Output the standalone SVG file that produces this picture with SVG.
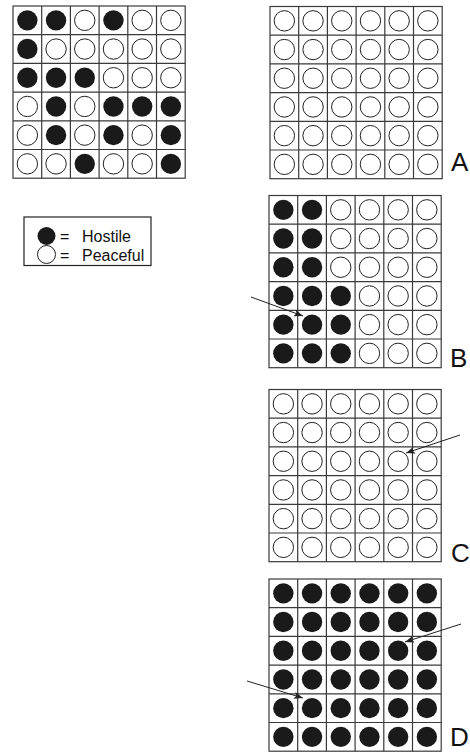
<svg xmlns="http://www.w3.org/2000/svg" xmlns:xlink="http://www.w3.org/1999/xlink" width="470" height="752" viewBox="0 0 470 752">
<style>
.grid{fill:#fff;stroke:#3a3a3a;stroke-width:1.2}
.h{fill:#1a1a1a}
.p{fill:#fff;stroke:#222;stroke-width:1}
.lbl{font-family:"Liberation Sans",Arial,sans-serif;font-size:26px;fill:#111}
.leg{font-family:"Liberation Sans",Arial,sans-serif;font-size:16px;fill:#111}
.arr{stroke:#222;stroke-width:1;fill:none}
</style>
<defs>
<g id="gridlines">
<rect class="grid" x="0" y="0" width="172.2" height="172.2"/>
<path class="grid" d="M28.7,0V172.2M57.4,0V172.2M86.1,0V172.2M114.8,0V172.2M143.5,0V172.2M0,28.7H172.2M0,57.4H172.2M0,86.1H172.2M0,114.8H172.2M0,143.5H172.2"/>
</g>
<circle id="H" class="h" r="10.2"/>
<circle id="P" class="p" r="10.2"/>
<marker id="ah" markerUnits="userSpaceOnUse" markerWidth="10" markerHeight="8" refX="9" refY="3.5" orient="auto">
<path d="M0,0 L9,3.5 L0,7 L2,3.5 z" fill="#222"/>
</marker>
</defs>

<g id="sample" transform="translate(13,6)">
<use xlink:href="#gridlines"/>
<use xlink:href="#H" x="14.35" y="14.35"/><use xlink:href="#H" x="43.05" y="14.35"/><use xlink:href="#P" x="71.75" y="14.35"/><use xlink:href="#H" x="100.45" y="14.35"/><use xlink:href="#P" x="129.15" y="14.35"/><use xlink:href="#P" x="157.85" y="14.35"/>
<use xlink:href="#H" x="14.35" y="43.05"/><use xlink:href="#P" x="43.05" y="43.05"/><use xlink:href="#P" x="71.75" y="43.05"/><use xlink:href="#P" x="100.45" y="43.05"/><use xlink:href="#P" x="129.15" y="43.05"/><use xlink:href="#P" x="157.85" y="43.05"/>
<use xlink:href="#H" x="14.35" y="71.75"/><use xlink:href="#H" x="43.05" y="71.75"/><use xlink:href="#H" x="71.75" y="71.75"/><use xlink:href="#P" x="100.45" y="71.75"/><use xlink:href="#P" x="129.15" y="71.75"/><use xlink:href="#P" x="157.85" y="71.75"/>
<use xlink:href="#P" x="14.35" y="100.45"/><use xlink:href="#H" x="43.05" y="100.45"/><use xlink:href="#P" x="71.75" y="100.45"/><use xlink:href="#H" x="100.45" y="100.45"/><use xlink:href="#H" x="129.15" y="100.45"/><use xlink:href="#H" x="157.85" y="100.45"/>
<use xlink:href="#P" x="14.35" y="129.15"/><use xlink:href="#H" x="43.05" y="129.15"/><use xlink:href="#P" x="71.75" y="129.15"/><use xlink:href="#H" x="100.45" y="129.15"/><use xlink:href="#P" x="129.15" y="129.15"/><use xlink:href="#H" x="157.85" y="129.15"/>
<use xlink:href="#P" x="14.35" y="157.85"/><use xlink:href="#P" x="43.05" y="157.85"/><use xlink:href="#H" x="71.75" y="157.85"/><use xlink:href="#P" x="100.45" y="157.85"/><use xlink:href="#P" x="129.15" y="157.85"/><use xlink:href="#H" x="157.85" y="157.85"/>
</g>

<g id="legend">
<rect x="24" y="217" width="127" height="48.5" fill="#fff" stroke="#222" stroke-width="1.2"/>
<circle class="h" cx="46.5" cy="236" r="9"/>
<circle class="p" cx="46.5" cy="254.5" r="9"/>
<text class="leg" x="60" y="242">=</text>
<text class="leg" x="82" y="242">Hostile</text>
<text class="leg" x="60" y="260.5">=</text>
<text class="leg" x="82" y="260.5">Peaceful</text>
</g>

<g id="gridA" transform="translate(270,6.5)">
<use xlink:href="#gridlines"/>
<use xlink:href="#P" x="14.35" y="14.35"/><use xlink:href="#P" x="43.05" y="14.35"/><use xlink:href="#P" x="71.75" y="14.35"/><use xlink:href="#P" x="100.45" y="14.35"/><use xlink:href="#P" x="129.15" y="14.35"/><use xlink:href="#P" x="157.85" y="14.35"/>
<use xlink:href="#P" x="14.35" y="43.05"/><use xlink:href="#P" x="43.05" y="43.05"/><use xlink:href="#P" x="71.75" y="43.05"/><use xlink:href="#P" x="100.45" y="43.05"/><use xlink:href="#P" x="129.15" y="43.05"/><use xlink:href="#P" x="157.85" y="43.05"/>
<use xlink:href="#P" x="14.35" y="71.75"/><use xlink:href="#P" x="43.05" y="71.75"/><use xlink:href="#P" x="71.75" y="71.75"/><use xlink:href="#P" x="100.45" y="71.75"/><use xlink:href="#P" x="129.15" y="71.75"/><use xlink:href="#P" x="157.85" y="71.75"/>
<use xlink:href="#P" x="14.35" y="100.45"/><use xlink:href="#P" x="43.05" y="100.45"/><use xlink:href="#P" x="71.75" y="100.45"/><use xlink:href="#P" x="100.45" y="100.45"/><use xlink:href="#P" x="129.15" y="100.45"/><use xlink:href="#P" x="157.85" y="100.45"/>
<use xlink:href="#P" x="14.35" y="129.15"/><use xlink:href="#P" x="43.05" y="129.15"/><use xlink:href="#P" x="71.75" y="129.15"/><use xlink:href="#P" x="100.45" y="129.15"/><use xlink:href="#P" x="129.15" y="129.15"/><use xlink:href="#P" x="157.85" y="129.15"/>
<use xlink:href="#P" x="14.35" y="157.85"/><use xlink:href="#P" x="43.05" y="157.85"/><use xlink:href="#P" x="71.75" y="157.85"/><use xlink:href="#P" x="100.45" y="157.85"/><use xlink:href="#P" x="129.15" y="157.85"/><use xlink:href="#P" x="157.85" y="157.85"/>
</g>
<text class="lbl" x="451" y="171">A</text>

<g id="gridB" transform="translate(269,195.5)">
<use xlink:href="#gridlines"/>
<use xlink:href="#H" x="14.35" y="14.35"/><use xlink:href="#H" x="43.05" y="14.35"/><use xlink:href="#P" x="71.75" y="14.35"/><use xlink:href="#P" x="100.45" y="14.35"/><use xlink:href="#P" x="129.15" y="14.35"/><use xlink:href="#P" x="157.85" y="14.35"/>
<use xlink:href="#H" x="14.35" y="43.05"/><use xlink:href="#H" x="43.05" y="43.05"/><use xlink:href="#P" x="71.75" y="43.05"/><use xlink:href="#P" x="100.45" y="43.05"/><use xlink:href="#P" x="129.15" y="43.05"/><use xlink:href="#P" x="157.85" y="43.05"/>
<use xlink:href="#H" x="14.35" y="71.75"/><use xlink:href="#H" x="43.05" y="71.75"/><use xlink:href="#P" x="71.75" y="71.75"/><use xlink:href="#P" x="100.45" y="71.75"/><use xlink:href="#P" x="129.15" y="71.75"/><use xlink:href="#P" x="157.85" y="71.75"/>
<use xlink:href="#H" x="14.35" y="100.45"/><use xlink:href="#H" x="43.05" y="100.45"/><use xlink:href="#H" x="71.75" y="100.45"/><use xlink:href="#P" x="100.45" y="100.45"/><use xlink:href="#P" x="129.15" y="100.45"/><use xlink:href="#P" x="157.85" y="100.45"/>
<use xlink:href="#H" x="14.35" y="129.15"/><use xlink:href="#H" x="43.05" y="129.15"/><use xlink:href="#H" x="71.75" y="129.15"/><use xlink:href="#P" x="100.45" y="129.15"/><use xlink:href="#P" x="129.15" y="129.15"/><use xlink:href="#P" x="157.85" y="129.15"/>
<use xlink:href="#H" x="14.35" y="157.85"/><use xlink:href="#H" x="43.05" y="157.85"/><use xlink:href="#H" x="71.75" y="157.85"/><use xlink:href="#P" x="100.45" y="157.85"/><use xlink:href="#P" x="129.15" y="157.85"/><use xlink:href="#P" x="157.85" y="157.85"/>
</g>
<text class="lbl" x="450" y="367">B</text>

<g id="gridC" transform="translate(269,389.5)">
<use xlink:href="#gridlines"/>
<use xlink:href="#P" x="14.35" y="14.35"/><use xlink:href="#P" x="43.05" y="14.35"/><use xlink:href="#P" x="71.75" y="14.35"/><use xlink:href="#P" x="100.45" y="14.35"/><use xlink:href="#P" x="129.15" y="14.35"/><use xlink:href="#P" x="157.85" y="14.35"/>
<use xlink:href="#P" x="14.35" y="43.05"/><use xlink:href="#P" x="43.05" y="43.05"/><use xlink:href="#P" x="71.75" y="43.05"/><use xlink:href="#P" x="100.45" y="43.05"/><use xlink:href="#P" x="129.15" y="43.05"/><use xlink:href="#P" x="157.85" y="43.05"/>
<use xlink:href="#P" x="14.35" y="71.75"/><use xlink:href="#P" x="43.05" y="71.75"/><use xlink:href="#P" x="71.75" y="71.75"/><use xlink:href="#P" x="100.45" y="71.75"/><use xlink:href="#P" x="129.15" y="71.75"/><use xlink:href="#P" x="157.85" y="71.75"/>
<use xlink:href="#P" x="14.35" y="100.45"/><use xlink:href="#P" x="43.05" y="100.45"/><use xlink:href="#P" x="71.75" y="100.45"/><use xlink:href="#P" x="100.45" y="100.45"/><use xlink:href="#P" x="129.15" y="100.45"/><use xlink:href="#P" x="157.85" y="100.45"/>
<use xlink:href="#P" x="14.35" y="129.15"/><use xlink:href="#P" x="43.05" y="129.15"/><use xlink:href="#P" x="71.75" y="129.15"/><use xlink:href="#P" x="100.45" y="129.15"/><use xlink:href="#P" x="129.15" y="129.15"/><use xlink:href="#P" x="157.85" y="129.15"/>
<use xlink:href="#P" x="14.35" y="157.85"/><use xlink:href="#P" x="43.05" y="157.85"/><use xlink:href="#P" x="71.75" y="157.85"/><use xlink:href="#P" x="100.45" y="157.85"/><use xlink:href="#P" x="129.15" y="157.85"/><use xlink:href="#P" x="157.85" y="157.85"/>
</g>
<text class="lbl" x="451" y="562">C</text>

<g id="gridD" transform="translate(269,579)">
<use xlink:href="#gridlines"/>
<use xlink:href="#H" x="14.35" y="14.35"/><use xlink:href="#H" x="43.05" y="14.35"/><use xlink:href="#H" x="71.75" y="14.35"/><use xlink:href="#H" x="100.45" y="14.35"/><use xlink:href="#H" x="129.15" y="14.35"/><use xlink:href="#H" x="157.85" y="14.35"/>
<use xlink:href="#H" x="14.35" y="43.05"/><use xlink:href="#H" x="43.05" y="43.05"/><use xlink:href="#H" x="71.75" y="43.05"/><use xlink:href="#H" x="100.45" y="43.05"/><use xlink:href="#H" x="129.15" y="43.05"/><use xlink:href="#H" x="157.85" y="43.05"/>
<use xlink:href="#H" x="14.35" y="71.75"/><use xlink:href="#H" x="43.05" y="71.75"/><use xlink:href="#H" x="71.75" y="71.75"/><use xlink:href="#H" x="100.45" y="71.75"/><use xlink:href="#H" x="129.15" y="71.75"/><use xlink:href="#H" x="157.85" y="71.75"/>
<use xlink:href="#H" x="14.35" y="100.45"/><use xlink:href="#H" x="43.05" y="100.45"/><use xlink:href="#H" x="71.75" y="100.45"/><use xlink:href="#H" x="100.45" y="100.45"/><use xlink:href="#H" x="129.15" y="100.45"/><use xlink:href="#H" x="157.85" y="100.45"/>
<use xlink:href="#H" x="14.35" y="129.15"/><use xlink:href="#H" x="43.05" y="129.15"/><use xlink:href="#H" x="71.75" y="129.15"/><use xlink:href="#H" x="100.45" y="129.15"/><use xlink:href="#H" x="129.15" y="129.15"/><use xlink:href="#H" x="157.85" y="129.15"/>
<use xlink:href="#H" x="14.35" y="157.85"/><use xlink:href="#H" x="43.05" y="157.85"/><use xlink:href="#H" x="71.75" y="157.85"/><use xlink:href="#H" x="100.45" y="157.85"/><use xlink:href="#H" x="129.15" y="157.85"/><use xlink:href="#H" x="157.85" y="157.85"/>
</g>
<text class="lbl" x="450" y="746">D</text>

<g id="connectors">
<line class="arr" x1="251" y1="297" x2="303" y2="316" marker-end="url(#ah)"/>
<line class="arr" x1="460" y1="435" x2="406" y2="453" marker-end="url(#ah)"/>
<line class="arr" x1="461" y1="624" x2="405" y2="642" marker-end="url(#ah)"/>
<line class="arr" x1="247" y1="681" x2="303" y2="698" marker-end="url(#ah)"/>
</g>
</svg>
